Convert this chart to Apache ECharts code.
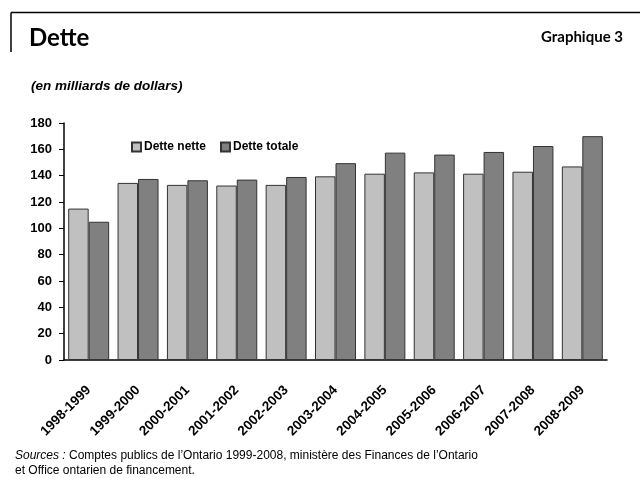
<!DOCTYPE html>
<html>
<head>
<meta charset="utf-8">
<script src="https://cdn.jsdelivr.net/npm/echarts@6/dist/echarts.min.js"></script>
<style>
  html, body { margin: 0; padding: 0; background: #fff; }
  #chart { width: 640px; height: 478px; }
</style>
</head>
<body>
<div id="chart"></div>
<script>
// Fiscal years shown on the horizontal axis
const years = ['1998-1999', '1999-2000', '2000-2001', '2001-2002', '2002-2003', '2003-2004',
               '2004-2005', '2005-2006', '2006-2007', '2007-2008', '2008-2009'];
// Net debt and total debt, billions of dollars
const detteNette  = [115, 134.5, 133, 132.5, 133, 139.5, 141.5, 142.5, 141.5, 143, 147];
const detteTotale = [105, 137.5, 136.5, 137, 139, 149.5, 157.5, 156, 158, 162.5, 170];
// Value axis ticks
const yTicks = [0, 20, 40, 60, 80, 100, 120, 140, 160, 180];

const sans = "'Liberation Sans', Arial, sans-serif";
const humanist = "Lato, 'Open Sans', sans-serif";

const chart = echarts.init(document.getElementById('chart'), null, { renderer: 'canvas' });

chart.setOption({
  animation: false,
  backgroundColor: '#ffffff',
  title: [
    { text: 'Dette', left: 24, top: 21,
      textStyle: { fontFamily: humanist, fontWeight: 'bold', fontSize: 24, color: '#000' } },
    { text: 'Graphique 3', right: 12, top: 25,
      textStyle: { fontFamily: humanist, fontWeight: 'bold', fontSize: 15, color: '#000' } },
    { text: '(en milliards de dollars)', left: 26, top: 74,
      textStyle: { fontFamily: sans, fontStyle: 'italic',
                   fontWeight: 'bold', fontSize: 13.5, color: '#000' } },
    { text: '{i|Sources :} Comptes publics de l\u2019Ontario 1999-2008, minist\u00e8re des Finances de l\u2019Ontario\net Office ontarien de financement.',
      left: 10, top: 443,
      textStyle: { fontFamily: sans, fontWeight: 'normal',
                   fontSize: 12, lineHeight: 15, color: '#000',
                   rich: { i: { fontStyle: 'italic', fontSize: 12, fontFamily: sans, lineHeight: 15 } } } }
  ],
  graphic: [
    { type: 'line', shape: { x1: 11, y1: 12.5, x2: 640, y2: 12.5 },
      style: { stroke: '#000', lineWidth: 1.5 } },
    { type: 'line', shape: { x1: 11, y1: 12.5, x2: 11, y2: 52 },
      style: { stroke: '#000', lineWidth: 1.5 } }
  ],
  legend: {
    left: 126, top: 136,
    itemWidth: 9, itemHeight: 9, itemGap: 14,
    icon: 'rect',
    textStyle: { fontFamily: sans, fontWeight: 'bold', fontSize: 12, color: '#000', padding: [0, 0, 0, -2] },
    data: ['Dette nette', 'Dette totale']
  },
  grid: { left: 64, right: 33, top: 123, bottom: 118, containLabel: false },
  xAxis: {
    type: 'category',
    data: years,
    axisLine: { lineStyle: { color: '#000', width: 1.5 } },
    axisTick: { show: false },
    axisLabel: {
      rotate: 45, interval: 0, margin: 28,
      fontFamily: sans, fontWeight: 'bold', fontSize: 13.5, color: '#000'
    }
  },
  yAxis: {
    type: 'value',
    min: yTicks[0], max: yTicks[yTicks.length - 1], interval: yTicks[1] - yTicks[0],
    axisLine: { show: true, lineStyle: { color: '#000', width: 1.5 } },
    axisTick: { show: true, length: 5, lineStyle: { color: '#000' } },
    splitLine: { show: false },
    axisLabel: { margin: 12, fontFamily: sans, fontWeight: 'bold', fontSize: 13, color: '#000' }
  },
  series: [
    { name: 'Dette nette', type: 'bar', data: detteNette,
      barGap: '0%', barCategoryGap: '17%',
      itemStyle: { color: '#c0c0c0', borderColor: '#333', borderWidth: 1 } },
    { name: 'Dette totale', type: 'bar', data: detteTotale,
      barGap: '0%', barCategoryGap: '17%',
      itemStyle: { color: '#808080', borderColor: '#333', borderWidth: 1 } }
  ]
});
</script>
</body>
</html>
